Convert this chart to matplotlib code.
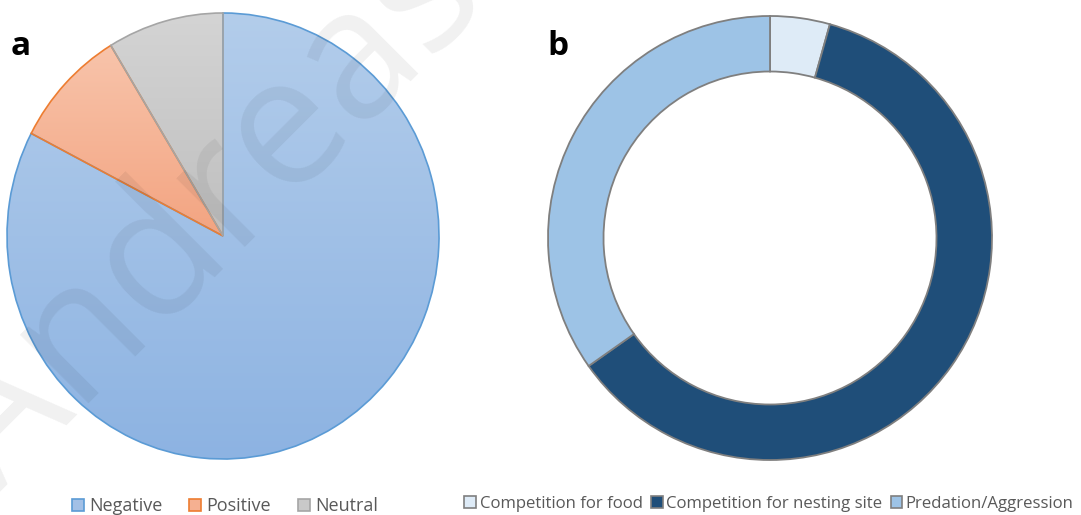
import matplotlib.pyplot as plt
import numpy as np
from matplotlib.colors import LinearSegmentedColormap
from matplotlib.patches import Patch

# panel a: overall effect of the interactions
effect_labels = ["Negative", "Positive", "Neutral"]
effect_counts = [38, 4, 4]
effect_top = ["#b3cdeb", "#f8c4ab", "#d4d4d4"]
effect_bottom = ["#8db3e2", "#f3a481", "#bfbfbf"]
effect_edges = ["#5b9bd5", "#ed7d31", "#a5a5a5"]
effect_legend_fill = ["#a3c0e6", "#f5b091", "#c9c9c9"]

# panel b: type of negative interaction
type_labels = ["Competition for food", "Competition for nesting site", "Predation/Aggression"]
type_counts = [1, 14, 8]
type_colors = ["#deebf7", "#1f4e79", "#9dc3e6"]

W, H = 1081, 515
plt.rcParams["font.family"] = ["Open Sans", "DejaVu Sans"]

fig = plt.figure(figsize=(W / 100, H / 100), dpi=100)


def px_axes(x0, y0, x1, y1):
    return fig.add_axes([x0 / W, 1 - y1 / H, (x1 - x0) / W, (y1 - y0) / H])


# --- pie with vertical gradient fills
ax_a = px_axes(7, 13, 439, 459)
wedges, _ = ax_a.pie(effect_counts, startangle=90, counterclock=False,
                     wedgeprops=dict(linewidth=1.2))
grad = np.linspace(0, 1, 256).reshape(-1, 1)
for w, top, bot, edge in zip(wedges, effect_top, effect_bottom, effect_edges):
    ext = w.get_path().get_extents()
    cmap = LinearSegmentedColormap.from_list("g", [bot, top])
    im = ax_a.imshow(grad, cmap=cmap, origin="lower", aspect="auto",
                     extent=(ext.x0, ext.x1, ext.y0, ext.y1), zorder=1)
    im.set_clip_path(w)
    w.set_facecolor("none")
    w.set_edgecolor(edge)
    w.set_zorder(2)
ax_a.set_xlim(-1, 1)
ax_a.set_ylim(-1, 1)
ax_a.set_aspect("auto")
ax_a.axis("off")

# --- donut
ax_b = px_axes(548, 16, 992, 460)
ax_b.pie(type_counts, colors=type_colors, startangle=90, counterclock=False,
         wedgeprops=dict(width=0.25, edgecolor="#7f7f7f", linewidth=1.3))
ax_b.set_xlim(-1, 1)
ax_b.set_ylim(-1, 1)
ax_b.set_aspect("auto")
ax_b.axis("off")

# panel letters
fig.text(11 / W, 1 - 55 / H, "a", fontsize=24, fontweight="bold", va="baseline")
fig.text(547 / W, 1 - 55 / H, "b", fontsize=24, fontweight="bold", va="baseline")

# legends
handles_a = [Patch(facecolor=f, edgecolor=e, linewidth=1.2)
             for f, e in zip(effect_legend_fill, effect_edges)]
leg_a = fig.legend(handles_a, effect_labels, loc="center", ncol=3,
                   bbox_to_anchor=(225 / W, 1 - 506 / H), frameon=False,
                   fontsize=13, handlelength=0.67, handleheight=0.67,
                   handletextpad=0.3, columnspacing=1.45, borderpad=0)
for t in leg_a.get_texts():
    t.set_color("#595959")

handles_b = [Patch(facecolor=c, edgecolor="#7f7f7f", linewidth=1.2) for c in type_colors]
leg_b = fig.legend(handles_b, type_labels, loc="center", ncol=3,
                   bbox_to_anchor=(769 / W, 1 - 504 / H), frameon=False,
                   fontsize=12.1, handlelength=0.7, handleheight=0.7,
                   handletextpad=0.2, columnspacing=0.5, borderpad=0)
for t in leg_b.get_texts():
    t.set_color("#595959")

# faint diagonal watermark
fig.text(-2 / W, 1 - 495 / H, "Andreas", fontsize=130, color="black", alpha=0.06,
         rotation=45, rotation_mode="anchor", ha="left", va="baseline", zorder=10)

fig.savefig("out.png", dpi=100)
